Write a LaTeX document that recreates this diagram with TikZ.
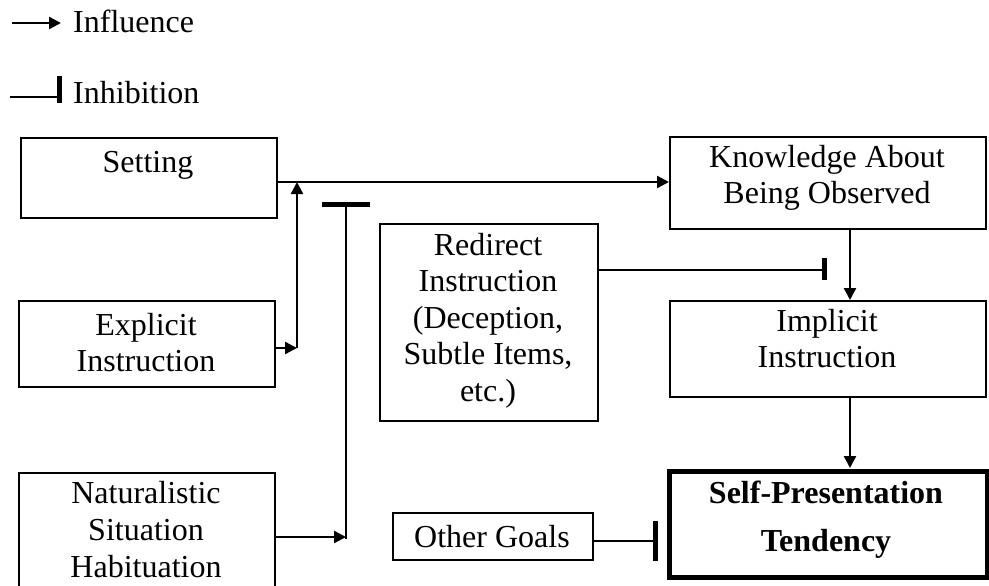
\documentclass[tikz,border=0pt]{standalone}
\usepackage{fontspec}
\setmainfont{Liberation Serif}
\usetikzlibrary{arrows.meta}
\begin{document}
\begin{tikzpicture}[x=1pt,y=-1pt,
  box/.style={draw=black, line width=2.4pt, rectangle, inner sep=0pt, anchor=north west},
  bigbox/.style={draw=black, line width=5pt, rectangle, inner sep=0pt, anchor=north west},
  txt/.style={inner sep=0pt, anchor=base, font=\fontsize{32}{36.5}\selectfont},
  btxt/.style={inner sep=0pt, anchor=base, font=\fontsize{32}{36.5}\selectfont\bfseries},
  conn/.style={line width=2.4pt},
  infl/.style={line width=2.4pt, -{Triangle[length=12pt,width=12pt]}},
  bar/.style={line width=5pt}
]
\clip (0,0) rectangle (989,586);
\fill[white] (0,0) rectangle (989,586);

% legend
\coordinate (l1a) at (12,23);
\coordinate (l1b) at (61,23);
\draw[infl] (l1a) -- (l1b);
\node[txt, anchor=base west] (linfl) at (73,33) {Influence};
\coordinate (l2a) at (10,97);
\coordinate (l2b) at (59,97);
\draw[conn] (l2a) -- (l2b);
\draw[bar] (59,76) -- (59,103);
\node[txt, anchor=base west] (linhib) at (73,103) {Inhibition};

% boxes
\node[box, minimum width=256pt, minimum height=80pt] (setting) at (20,137) {};
\node[txt] (settingT) at (148,172) {Setting};

\node[box, minimum width=256pt, minimum height=86pt] (explicit) at (18,300) {};
\node[txt] (explicitT1) at (146,335) {Explicit};
\node[txt] (explicitT2) at (146,371) {Instruction};

\node[box, minimum width=256pt, minimum height=140pt] (natural) at (18,472) {};
\node[txt] (naturalT1) at (146,503) {Naturalistic};
\node[txt] (naturalT2) at (146,540) {Situation};
\node[txt] (naturalT3) at (146,577) {Habituation};

\node[box, minimum width=218pt, minimum height=197pt] (redirect) at (379,223) {};
\node[txt] (redirectT1) at (488,255) {Redirect};
\node[txt] (redirectT2) at (488,291.5) {Instruction};
\node[txt] (redirectT3) at (488,328) {(Deception,};
\node[txt] (redirectT4) at (488,364.5) {Subtle Items,};
\node[txt] (redirectT5) at (488,401) {etc.)};

\node[box, minimum width=316pt, minimum height=92pt] (know) at (669,136) {};
\node[txt] (knowT1) at (827,167) {Knowledge About};
\node[txt] (knowT2) at (827,203) {Being Observed};

\node[box, minimum width=316pt, minimum height=96pt] (implicit) at (669,300) {};
\node[txt] (implicitT1) at (827,331) {Implicit};
\node[txt] (implicitT2) at (827,367) {Instruction};

\node[bigbox, minimum width=318pt, minimum height=106pt] (self) at (667,469) {};
\node[btxt] (selfT1) at (826,503) {Self-Presentation};
\node[btxt] (selfT2) at (826,551) {Tendency};

\node[box, minimum width=200pt, minimum height=47pt] (other) at (392,512) {};
\node[txt] (otherT) at (492,547) {Other Goals};

% connectors
\coordinate (j1) at (297,182);
\coordinate (j2) at (297,348);
\draw[infl] (setting.east |- j1) -- (know.west |- j1);
\draw[infl] (explicit.east |- j2) -- (j2);
\draw[infl] (j2) -- (j1);

\coordinate (n1) at (346,537);
\coordinate (n2) at (346,204);
\draw[infl] (natural.east |- n1) -- (n1);
\draw[conn] (346,539) -- (n2);
\draw[bar] (322,204) -- (370,204);

\coordinate (r1) at (824,270);
\draw[conn] (redirect.east |- r1) -- (r1);
\draw[bar] (824,258) -- (824,280);

\coordinate (kx) at (850,0);
\draw[infl] (know.south -| kx) -- (implicit.north -| kx);
\draw[infl] (implicit.south -| kx) -- ([yshift=1pt]self.north -| kx);

\coordinate (o1) at (655,541);
\draw[conn] (other.east |- o1) -- (o1);
\draw[bar] (655,521) -- (655,561);
\end{tikzpicture}
\end{document}
